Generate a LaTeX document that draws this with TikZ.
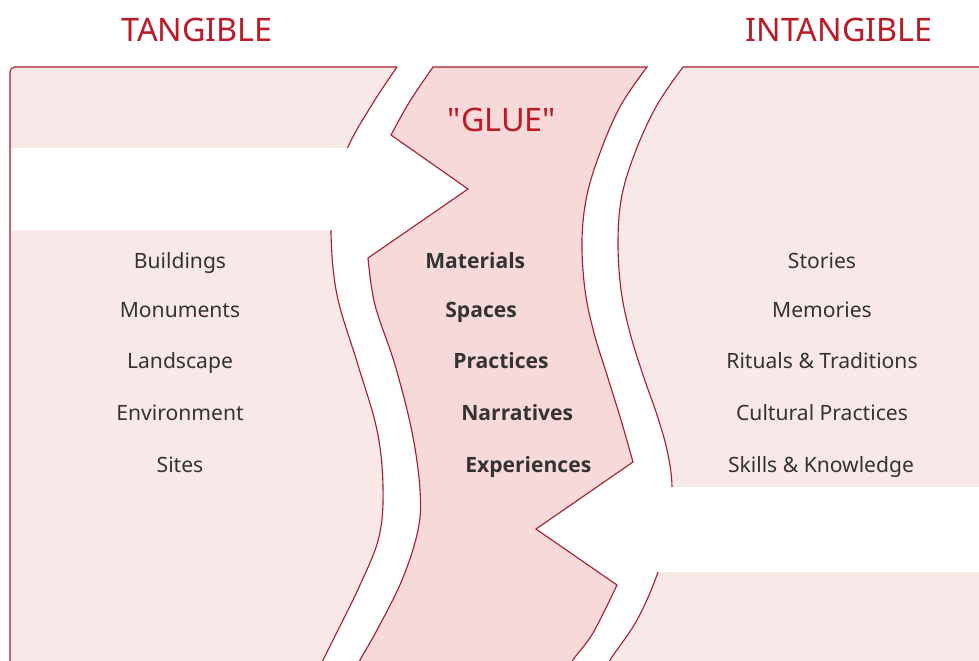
\documentclass[tikz,border=0pt]{standalone}
\usepackage{fontspec}
\setmainfont{Noto Sans}
\newfontfamily\gluefont{Open Sans}
\newfontfamily\titlefont{Noto Sans}[Ligatures=TeXOff]
\definecolor{panelfill}{HTML}{F9E8E8}
\definecolor{gluefill}{HTML}{F8D9DA}
\definecolor{edgered}{HTML}{A31F2E}
\definecolor{titlered}{HTML}{BB1A27}
\definecolor{txt}{HTML}{333333}
\tikzset{
  panel/.style={fill=panelfill, draw=edgered, line width=0.8pt, line join=round},
  gluepanel/.style={fill=gluefill, draw=edgered, line width=0.8pt, line join=miter},
  title/.style={text=titlered, font=\titlefont\fontsize{23}{27}\selectfont, inner sep=0pt},
  item/.style={text=txt, font=\fontsize{15}{18}\selectfont, anchor=base, inner sep=0pt},
  glueitem/.style={text=txt, font=\gluefont\fontsize{15}{18}\selectfont\bfseries, anchor=base west, inner sep=0pt},
  band/.style={fill=white}
}
\begin{document}
\begin{tikzpicture}[x=0.025cm, y=-0.025cm]
\useasboundingbox (0,0) rectangle (979,660);
\clip (0,0) rectangle (979,660);
\fill[white] (0,0) rectangle (979,660);
% left panel
\path[panel] (10,680) -- (10,72) .. controls (10,69) and (12,67) .. (15,67) -- (397,67)
  -- plot[smooth, tension=0.6] coordinates {(397,67) (373,103) (348,147) (335,190) (331,232) (337,295) (358,365) (377,430) (383,487) (379,537) (360,585) (338,630) (323,660) (313,680)}
  -- cycle;
% right panel
\path[panel] (683,67) -- (1000,67) -- (1000,680) -- (600,680)
  -- plot[smooth, tension=0.6] coordinates {(600,680) (610,660) (637,620) (658,572) (668,530) (672,487) (667,450) (657,415) (643,375) (630,333) (621,290) (618,240) (622,195) (636,150) (657,105) (683,67)}
  -- cycle;
% glue panel
\path[gluepanel] (433,67) -- (647,67)
  -- plot[smooth, tension=0.6] coordinates {(647,67) (621,105) (601,150) (587,195) (582,240) (585,290) (594,333) (607,375) (621,420) (633,462)}
  -- (536,529) -- (617,585)
  -- plot[smooth, tension=0.6] coordinates {(617,585) (593,633) (573,660) (563,680)}
  -- (350,680)
  -- plot[smooth, tension=0.6] coordinates {(350,680) (360,660) (377,630) (402,580) (418,530) (420,490) (412,432) (395,365) (375,305) (368,258)}
  -- (468,189) -- (391,135)
  -- plot[smooth, tension=0.6] coordinates {(391,135) (410,101) (433,67)}
  -- cycle;
% white arrow bands
\path[band] (11.2,148) rectangle (398,230);
\path[band] (605,487) rectangle (1000,572);
% titles
\node[title] (tangible) at (197,30) {TANGIBLE};
\node[title] (intangible) at (839,30) {INTANGIBLE};
\node[title] (glue) at (502,120) {"GLUE"};
% left items
\node[item] (buildings) at (180,268) {Buildings};
\node[item] (monuments) at (180,317) {Monuments};
\node[item] (landscape) at (180,368) {Landscape};
\node[item] (environment) at (180,420) {Environment};
\node[item] (sites) at (180,472) {Sites};
% glue items
\node[glueitem] (materials) at (425,268) {Materials};
\node[glueitem] (spaces) at (445,317) {Spaces};
\node[glueitem] (practices) at (453,368) {Practices};
\node[glueitem] (narratives) at (461,420) {Narratives};
\node[glueitem] (experiences) at (465,472) {Experiences};
% right items
\node[item] (stories) at (822,268) {Stories};
\node[item] (memories) at (822,317) {Memories};
\node[item] (rituals) at (822,368) {Rituals \& Traditions};
\node[item] (cultural) at (822,420) {Cultural Practices};
\node[item] (skills) at (821,472) {Skills \& Knowledge};
\end{tikzpicture}
\end{document}
